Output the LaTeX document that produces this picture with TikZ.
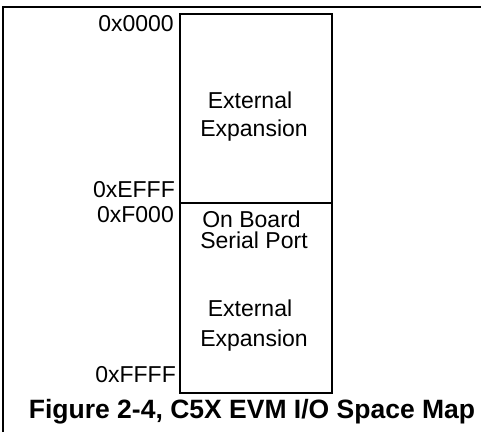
\documentclass[tikz,border=0pt]{standalone}
\usepackage{fontspec}
\setmainfont{Liberation Sans}
\begin{document}
\begin{tikzpicture}[x=1pt,y=-1pt,
  frame/.style={line width=2pt},
  lbl/.style={font=\fontsize{23}{27}\selectfont, inner sep=0pt},
  ttl/.style={font=\fontsize{26.5}{30}\selectfont\bfseries, inner sep=0pt}]
\useasboundingbox (0,0) rectangle (481,432);
\draw[frame] (3,432) -- (3,7) -- (481,7);
\node[draw, frame, minimum width=152pt, minimum height=189pt, anchor=north west, inner sep=0pt] (top) at (179,13) {};
\node[draw, frame, minimum width=152pt, minimum height=190pt, anchor=north west, inner sep=0pt] (bot) at (179,202) {};
\node[lbl, anchor=base east] (a0) at (174,31) {0x0000};
\node[lbl, anchor=base east] (a1) at (175,197) {0xEFFF};
\node[lbl, anchor=base east] (a2) at (174,222) {0xF000};
\node[lbl, anchor=base east] (a3) at (176,382) {0xFFFF};
\node[lbl, anchor=base] (t1) at (250,108) {External};
\node[lbl, anchor=base] (t2) at (254,136) {Expansion};
\node[lbl, anchor=base, text depth=0pt] (t3) at (251.5,227) {On Board};
\node[lbl, anchor=base] (t4) at (254,248) {Serial Port};
\node[lbl, anchor=base] (t5) at (250,316) {External};
\node[lbl, anchor=base] (t6) at (254,346) {Expansion};
\node[ttl, anchor=base] (cap) at (252,418) {Figure 2-4, C5X EVM I/O Space Map};
\end{tikzpicture}
\end{document}
